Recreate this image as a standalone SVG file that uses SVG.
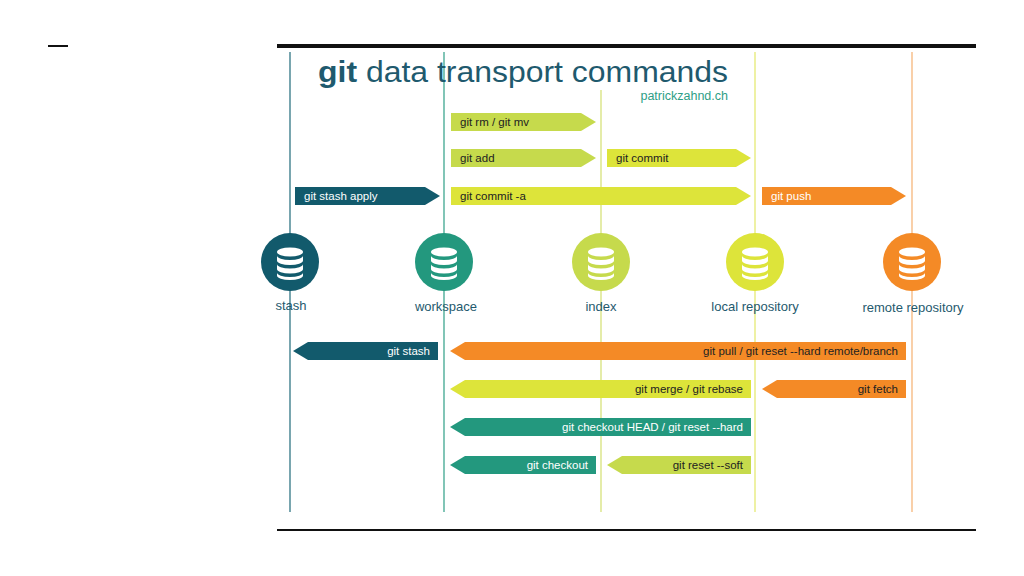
<svg xmlns="http://www.w3.org/2000/svg" width="1024" height="576" viewBox="0 0 1024 576">
<style>
text{font-family:"Liberation Sans",Arial,sans-serif}
.l{font-size:11.5px;fill:#fff}
.d{font-size:11.5px;fill:#222}
.n{font-size:13px;fill:#1f5a6e;text-anchor:middle}
.db{fill:#fff}
</style>
<defs>
<g id="db"><ellipse cx="0" cy="-10" rx="13" ry="4.5" class="db"/><path d="M-13-6.5a13 4.5 0 0 0 26 0v5a13 4.5 0 0 1-26 0z" class="db"/><path d="M-13 2a13 4.5 0 0 0 26 0v5a13 4.5 0 0 1-26 0z" class="db"/><path d="M-13 10.5a13 4.5 0 0 0 26 0v3a13 4.5 0 0 1-26 0z" class="db"/></g>
</defs>
<rect width="1024" height="576" fill="#fff"/>
<line x1="48" y1="46" x2="68" y2="46" stroke="#111" stroke-width="2"/>
<line x1="277" y1="46" x2="976" y2="46" stroke="#111" stroke-width="4"/>
<line x1="277" y1="530" x2="976" y2="530" stroke="#111" stroke-width="2"/>
<g id="lanes" stroke-width="1.2">
<line x1="290" y1="52" x2="290" y2="512" stroke="#1f6a7a"/>
<line x1="444" y1="52" x2="444" y2="512" stroke="#2e9e86"/>
<line x1="601" y1="90" x2="601" y2="512" stroke="#d3e070"/>
<line x1="755" y1="52" x2="755" y2="512" stroke="#e3e868"/>
<line x1="912" y1="52" x2="912" y2="512" stroke="#f5b070"/>
</g>
<text x="318" y="82" font-size="30" fill="#1f5a6e" textLength="410" lengthAdjust="spacingAndGlyphs"><tspan font-weight="bold">git</tspan> data transport commands</text>
<text x="728" y="100" font-size="12.5" fill="#2e9e86" text-anchor="end">patrickzahnd.ch</text>
<g id="connectors">
<path d="M451 113h130l15 9-15 9h-130z" fill="#c6da4c"/><text x="460" y="126" class="d">git rm / git mv</text>
<path d="M451 149h130l15 9-15 9h-130z" fill="#c6da4c"/><text x="460" y="162" class="d">git add</text>
<path d="M607 149h129l15 9-15 9h-129z" fill="#dde43a"/><text x="616" y="162" class="d">git commit</text>
<path d="M295 187h130l15 9-15 9h-130z" fill="#125a6c"/><text x="304" y="200" class="l">git stash apply</text>
<path d="M451 187h285l15 9-15 9h-285z" fill="#dde43a"/><text x="460" y="200" class="d">git commit -a</text>
<path d="M762 187h129l15 9-15 9h-129z" fill="#f48a26"/><text x="771" y="200" class="l">git push</text>
<path d="M438 342h-130l-15 9 15 9h130z" fill="#125a6c"/><text x="430" y="355" class="l" text-anchor="end">git stash</text>
<path d="M906 342h-441l-15 9 15 9h441z" fill="#f48a26"/><text x="898" y="355" class="d" text-anchor="end">git pull / git reset --hard remote/branch</text>
<path d="M751 380h-286l-15 9 15 9h286z" fill="#dde43a"/><text x="743" y="393" class="d" text-anchor="end">git merge / git rebase</text>
<path d="M906 380h-129l-15 9 15 9h129z" fill="#f48a26"/><text x="898" y="393" class="d" text-anchor="end">git fetch</text>
<path d="M751 418h-286l-15 9 15 9h286z" fill="#23987e"/><text x="743" y="431" class="l" text-anchor="end">git checkout HEAD / git reset --hard</text>
<path d="M596 456h-131l-15 9 15 9h131z" fill="#23987e"/><text x="588" y="469" class="l" text-anchor="end">git checkout</text>
<path d="M751 456h-129l-15 9 15 9h129z" fill="#c6da4c"/><text x="743" y="469" class="d" text-anchor="end">git reset --soft</text>
</g>
<g id="stash"><circle cx="290" cy="262" r="29" fill="#125a6c"/><use href="#db" x="290" y="262"/><text x="291" y="310" class="n">stash</text></g>
<g id="workspace"><circle cx="444" cy="262" r="29" fill="#23987e"/><use href="#db" x="444" y="262"/><text x="446" y="311" class="n">workspace</text></g>
<g id="index"><circle cx="601" cy="262" r="29" fill="#c6da4c"/><use href="#db" x="601" y="262"/><text x="601" y="311" class="n">index</text></g>
<g id="local"><circle cx="755" cy="262" r="29" fill="#dde43a"/><use href="#db" x="755" y="262"/><text x="755" y="311" class="n">local repository</text></g>
<g id="remote"><circle cx="912" cy="262" r="29" fill="#f48a26"/><use href="#db" x="912" y="262"/><text x="913" y="312" class="n">remote repository</text></g>
</svg>
